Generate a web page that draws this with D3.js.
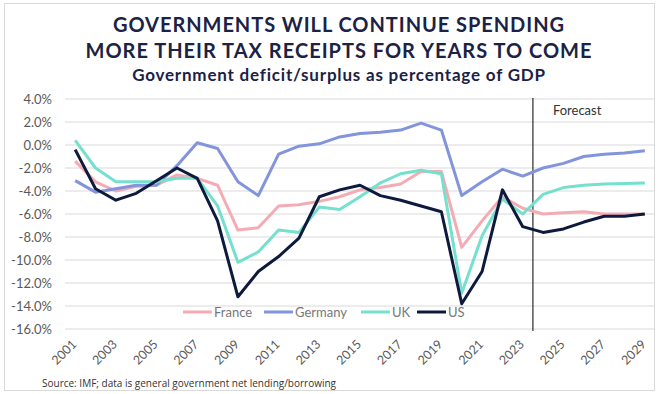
<!DOCTYPE html>
<html>
<head>
<meta charset="utf-8">
<script src="https://cdn.jsdelivr.net/npm/d3@7"></script>
<style>
  body { margin: 0; background: #fff; }
  svg { display: block; font-family: Lato, "Open Sans", sans-serif; }
</style>
</head>
<body>
<div id="chart"></div>
<script>
const years = d3.range(2001, 2030).map(String);
const tickYears = years.filter((d, i) => i % 2 === 0);
const yTicks = [4, 2, 0, -2, -4, -6, -8, -10, -12, -14, -16];

const france = [-1.4, -3.2, -4.0, -3.6, -3.5, -2.6, -2.9, -3.5, -7.4, -7.2, -5.3, -5.2, -4.9, -4.5, -3.9,
  -3.7, -3.4, -2.3, -2.3, -8.9, -6.6, -4.5, -5.5, -6.0, -5.9, -5.8, -6.0, -6.0, -6.0];
const germany = [-3.1, -4.1, -3.8, -3.5, -3.5, -1.8, 0.2, -0.3, -3.2, -4.4, -0.8, -0.1, 0.1, 0.7, 1.0,
  1.1, 1.3, 1.9, 1.3, -4.4, -3.2, -2.1, -2.7, -2.0, -1.6, -1.0, -0.8, -0.7, -0.5];
const uk = [0.4, -2.0, -3.2, -3.2, -3.2, -2.9, -2.9, -5.3, -10.2, -9.3, -7.4, -7.6, -5.4, -5.6, -4.5,
  -3.3, -2.5, -2.2, -2.5, -12.9, -7.9, -4.7, -6.0, -4.3, -3.7, -3.5, -3.4, -3.35, -3.3];
const us = [-0.4, -3.8, -4.8, -4.2, -3.1, -2.0, -2.9, -6.6, -13.2, -11.0, -9.7, -8.1, -4.5, -3.9, -3.5,
  -4.4, -4.8, -5.3, -5.8, -13.8, -11.0, -3.9, -7.1, -7.6, -7.3, -6.7, -6.2, -6.2, -6.0];

const seriesNames = ["France", "Germany", "UK", "US"];
const seriesValues = [france, germany, uk, us];
const seriesColors = ["#f4abb4", "#8294dc", "#74e0cd", "#0e1a3d"];
const forecastAfter = "2023";

const W = 659, H = 394;
const svg = d3.select("#chart").append("svg").attr("width", W).attr("height", H);

svg.append("rect").attr("x", 4.5).attr("y", 3.5).attr("width", 650).attr("height", 387)
  .attr("fill", "#fff").attr("stroke", "#d9d9d9");

const x = d3.scalePoint().domain(years).range([65, 655]).padding(0.5);
const y = d3.scaleLinear().domain([-16, 4]).range([329, 99]);

// titles
const title = svg.append("g").attr("fill", "#1b2245").attr("text-anchor", "middle");
title.append("text").attr("x", 339).attr("y", 32).attr("font-size", 20).attr("font-weight", 700)
  .attr("letter-spacing", 0.95).text("GOVERNMENTS WILL CONTINUE SPENDING");
title.append("text").attr("x", 339).attr("y", 58).attr("font-size", 20).attr("font-weight", 700)
  .attr("letter-spacing", 1).text("MORE THEIR TAX RECEIPTS FOR YEARS TO COME");
title.append("text").attr("x", 339).attr("y", 81).attr("font-size", 17).attr("font-weight", 700)
  .attr("letter-spacing", 0.8).text("Government deficit/surplus as percentage of GDP");

// gridlines
svg.append("g").selectAll("line").data(yTicks).join("line")
  .attr("x1", 65).attr("x2", 655)
  .attr("y1", d => y(d)).attr("y2", d => y(d))
  .attr("stroke", "#d9d9d9").attr("stroke-width", 1);

// y labels
svg.append("g").selectAll("text").data(yTicks).join("text")
  .attr("x", 52).attr("y", d => y(d)).attr("dy", "0.35em")
  .attr("text-anchor", "end").attr("font-size", 13).attr("fill", "#595959")
  .text(d => d.toFixed(1) + "%");

// x labels
svg.append("g").selectAll("text").data(tickYears).join("text")
  .attr("transform", d => `translate(${x(d) - 1},${342}) rotate(-45)`)
  .attr("text-anchor", "end").attr("dy", "0.35em")
  .attr("font-size", 12.5).attr("fill", "#595959")
  .text(d => d);

// forecast divider
const fx = x(forecastAfter) + x.step() / 2;
svg.append("line").attr("x1", fx).attr("x2", fx).attr("y1", 98).attr("y2", 331)
  .attr("stroke", "#000").attr("stroke-width", 1);
svg.append("text").attr("x", fx + 20).attr("y", 115).attr("font-size", 13).attr("fill", "#333")
  .text("Forecast");

// legend
const legendX = [183, 264, 361, 417];
const legend = svg.append("g").selectAll("g").data(seriesNames).join("g")
  .attr("transform", (d, i) => `translate(${legendX[i]},${312})`);
legend.append("line").attr("x1", 0).attr("x2", 29).attr("stroke", (d, i) => seriesColors[i])
  .attr("stroke-width", 3);
legend.append("text").attr("x", 31).attr("dy", "0.35em").attr("font-size", 13).attr("fill", "#777")
  .text(d => d);

// lines
const line = d3.line().x((d, i) => x(years[i])).y(d => y(d));
svg.append("g").selectAll("path").data(seriesValues).join("path")
  .attr("d", line).attr("fill", "none")
  .attr("stroke", (d, i) => seriesColors[i])
  .attr("stroke-width", 3).attr("stroke-linejoin", "round");

// source
svg.append("text").attr("x", 42).attr("y", 387).attr("font-size", 10)
  .attr("font-family", "'Liberation Sans Narrow', 'Open Sans', sans-serif").attr("fill", "#333")
  .text("Source: IMF; data is general government net lending/borrowing");
</script>
</body>
</html>
